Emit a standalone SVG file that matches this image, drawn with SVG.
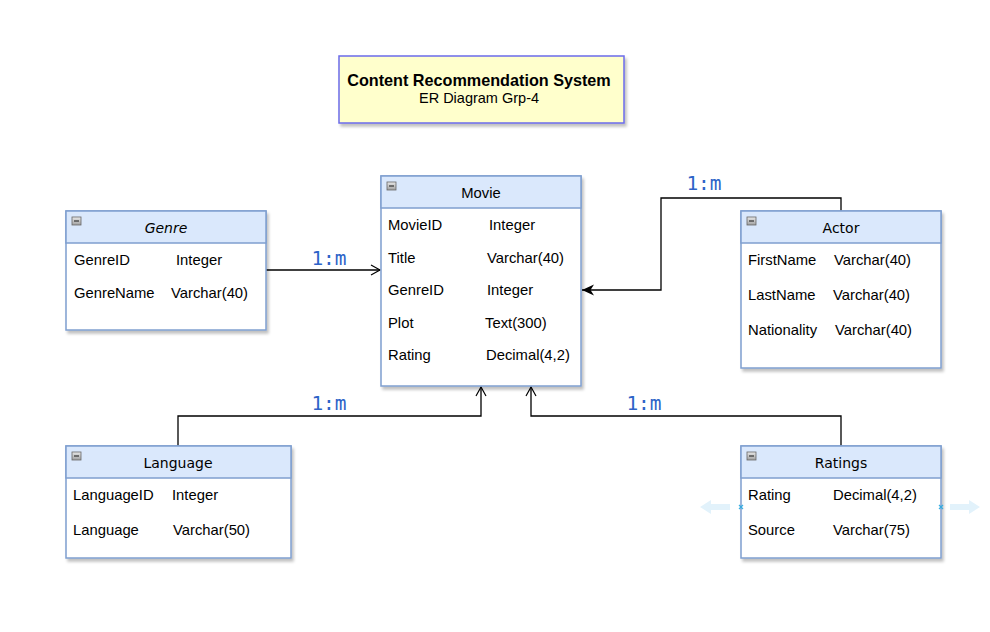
<svg xmlns="http://www.w3.org/2000/svg" width="990" height="632" viewBox="0 0 990 632">
<defs>
<filter id="sh" x="-10%" y="-10%" width="130%" height="130%">
<feGaussianBlur in="SourceAlpha" stdDeviation="1.5"/>
<feOffset dx="2" dy="3" result="b"/>
<feComponentTransfer><feFuncA type="linear" slope="0.25"/></feComponentTransfer>
<feMerge><feMergeNode/><feMergeNode in="SourceGraphic"/></feMerge>
</filter>
<linearGradient id="ig" x1="0" y1="0" x2="0" y2="1">
<stop offset="0" stop-color="#e8e8e8"/><stop offset="1" stop-color="#a0a0a0"/>
</linearGradient>
<marker id="open" markerWidth="12" markerHeight="12" refX="10" refY="6" orient="auto" markerUnits="userSpaceOnUse">
<path d="M1,1 L10,6 L1,11" fill="none" stroke="#000" stroke-width="1.2"/>
</marker>
<marker id="fill" markerWidth="14" markerHeight="12" refX="12" refY="6" orient="auto" markerUnits="userSpaceOnUse">
<path d="M0,0.5 L12,6 L0,11.5 L3.5,6 Z" fill="#000"/>
</marker>
</defs>
<style>
.box{fill:#ffffff;stroke:#7f9fcf;stroke-width:1.5}
.hd{fill:#dae8fc;stroke:#7f9fcf;stroke-width:1.5}
.t{font-family:"Liberation Sans",Arial,sans-serif;font-size:14.8px;fill:#000}
.h{font-family:"Liberation Sans",Arial,sans-serif;font-size:14.8px;fill:#000;text-anchor:middle}
.hh{font-family:"DejaVu Sans",sans-serif;font-size:14px;fill:#000;text-anchor:middle}
.lb{font-family:"DejaVu Sans Mono",monospace;font-size:19.5px;fill:#2d63c8;text-anchor:middle}
.ln{fill:none;stroke:#000;stroke-width:1.3}
.ic{fill:url(#ig);stroke:#666;stroke-width:0.8}
.mi{stroke:#333;stroke-width:1.2}
</style>
<rect width="990" height="632" fill="#ffffff"/>

<g id="title" filter="url(#sh)">
<rect x="339" y="56" width="285" height="67" fill="#ffffcc" stroke="#6b6bea" stroke-width="1.5"/>
</g>
<text x="479" y="86" class="h" style="font-weight:bold;font-size:16.2px">Content Recommendation System</text>
<text x="479" y="103" class="h" style="font-size:14.5px">ER Diagram Grp-4</text>

<g id="connectors">
<path class="ln" d="M266,270 L380,270" marker-end="url(#open)"/>
<path class="ln" d="M841,211 L841,198 L661,198 L661,290 L582,290" marker-end="url(#fill)"/>
<path class="ln" d="M178,446 L178,416 L481,416 L481,387" marker-end="url(#open)"/>
<path class="ln" d="M841,446 L841,416 L531,416 L531,387" marker-end="url(#open)"/>
<text x="329" y="265" class="lb">1:m</text>
<text x="704" y="190" class="lb">1:m</text>
<text x="329" y="410" class="lb">1:m</text>
<text x="644" y="410" class="lb">1:m</text>
</g>

<g id="genre">
<g filter="url(#sh)"><rect x="66" y="211" width="200" height="119" class="box"/></g>
<rect x="66" y="211" width="200" height="32" class="hd"/>
<rect x="72" y="217" width="9" height="8" class="ic"/><path d="M74,221 L79,221" class="mi"/>
<text x="166" y="233" class="hh" style="font-style:italic">Genre</text>
<text x="74" y="265" class="t">GenreID</text><text x="176" y="265" class="t">Integer</text>
<text x="74" y="298" class="t">GenreName</text><text x="171" y="298" class="t">Varchar(40)</text>
</g>

<g id="movie">
<g filter="url(#sh)"><rect x="381" y="176" width="200" height="210" class="box"/></g>
<rect x="381" y="176" width="200" height="32" class="hd"/>
<rect x="387" y="182" width="9" height="8" class="ic"/><path d="M389,186 L394,186" class="mi"/>
<text x="481" y="198" class="h">Movie</text>
<text x="388" y="230" class="t">MovieID</text><text x="489" y="230" class="t">Integer</text>
<text x="388" y="263" class="t">Title</text><text x="487" y="263" class="t">Varchar(40)</text>
<text x="388" y="295" class="t">GenreID</text><text x="487" y="295" class="t">Integer</text>
<text x="388" y="328" class="t">Plot</text><text x="485" y="328" class="t">Text(300)</text>
<text x="388" y="360" class="t">Rating</text><text x="486" y="360" class="t">Decimal(4,2)</text>
</g>

<g id="actor">
<g filter="url(#sh)"><rect x="741" y="211" width="200" height="157" class="box"/></g>
<rect x="741" y="211" width="200" height="32" class="hd"/>
<rect x="747" y="217" width="9" height="8" class="ic"/><path d="M749,221 L754,221" class="mi"/>
<text x="841" y="233" class="hh">Actor</text>
<text x="748" y="265" class="t">FirstName</text><text x="834" y="265" class="t">Varchar(40)</text>
<text x="748" y="300" class="t">LastName</text><text x="833" y="300" class="t">Varchar(40)</text>
<text x="748" y="335" class="t">Nationality</text><text x="835" y="335" class="t">Varchar(40)</text>
</g>

<g id="language">
<g filter="url(#sh)"><rect x="66" y="446" width="225" height="112" class="box"/></g>
<rect x="66" y="446" width="225" height="32" class="hd"/>
<rect x="72" y="452" width="9" height="8" class="ic"/><path d="M74,456 L79,456" class="mi"/>
<text x="178" y="468" class="hh">Language</text>
<text x="73" y="500" class="t">LanguageID</text><text x="172" y="500" class="t">Integer</text>
<text x="73" y="535" class="t">Language</text><text x="173" y="535" class="t">Varchar(50)</text>
</g>

<g id="ratings">
<g filter="url(#sh)"><rect x="741" y="446" width="200" height="112" class="box"/></g>
<rect x="741" y="446" width="200" height="32" class="hd"/>
<rect x="747" y="452" width="9" height="8" class="ic"/><path d="M749,456 L754,456" class="mi"/>
<text x="841" y="468" class="hh">Ratings</text>
<text x="748" y="500" class="t">Rating</text><text x="833" y="500" class="t">Decimal(4,2)</text>
<text x="748" y="535" class="t">Source</text><text x="833" y="535" class="t">Varchar(75)</text>
</g>

<g id="selection" opacity="0.9">
<path d="M700,507 L711,500 L711,504 L730,504 L730,510 L711,510 L711,514 Z" fill="#dff1fb"/>
<path d="M980,507 L969,500 L969,504 L950,504 L950,510 L969,510 L969,514 Z" fill="#dff1fb"/>
<path d="M739,505 L743,509 M743,505 L739,509" stroke="#29a8e0" stroke-width="1.2"/>
<path d="M939,505 L943,509 M943,505 L939,509" stroke="#29a8e0" stroke-width="1.2"/>
</g>
</svg>
